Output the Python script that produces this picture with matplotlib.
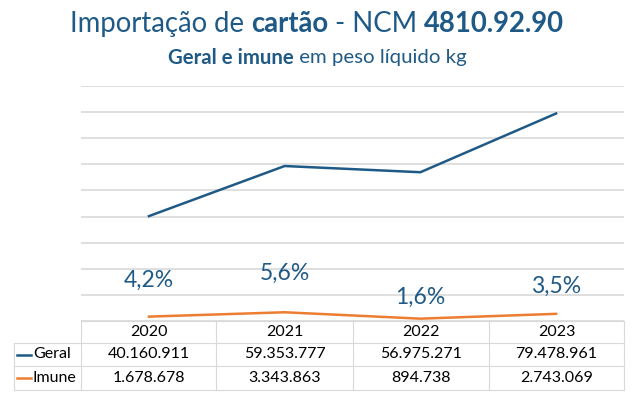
import matplotlib
matplotlib.use("Agg")
import matplotlib.pyplot as plt
from matplotlib.lines import Line2D

years = ["2020", "2021", "2022", "2023"]
geral = [40160911, 59353777, 56975271, 79478961]
imune = [1678678, 3343863, 894738, 2743069]
series_names = ["Geral", "Imune"]

BLUE = "#1F5A87"
ORANGE = "#ED7D31"
GRID = "#D9D9D9"
FONT = "Lato"

W, H = 634, 395
fig = plt.figure(figsize=(W / 100, H / 100), dpi=100)


def fx(px):
    return px / W


def fy(py):
    return 1 - py / H


# axes region (pixels)
L, R, T, B = 81, 624, 86, 321
ax = fig.add_axes([fx(L), fy(B), fx(R) - fx(L), fy(T) - fy(B)])
x = list(range(len(years)))
ax.set_xlim(-0.5, len(years) - 0.5)
ax.set_ylim(0, 90e6)
ax.set_yticks([i * 10e6 for i in range(10)])
ax.yaxis.grid(True, color=GRID, lw=1.2)
ax.set_axisbelow(True)
for s in ax.spines.values():
    s.set_visible(False)
ax.tick_params(left=False, bottom=False, labelleft=False, labelbottom=False)
ax.patch.set_alpha(0)

ax.plot(x, geral, color=BLUE, lw=1.8, solid_joinstyle="miter", clip_on=False)
ax.plot(x, imune, color=ORANGE, lw=1.8, solid_joinstyle="miter", clip_on=False)

# percentage labels (imune share of geral)
label_y_px = [280, 273, 297, 286]
for i, (g, im) in enumerate(zip(geral, imune)):
    pct = f"{im / g * 100:.1f}%".replace(".", ",")
    yv = (B - label_y_px[i]) / (B - T) * 90e6
    ax.text(i, yv, pct, ha="center", va="center", color=BLUE,
            fontsize=16.5, family=FONT)

# titles built from pieces (regular / bold)
renderer = fig.canvas.get_renderer()


def rich_line(pieces, ypx, size):
    texts = []
    for s, w in pieces:
        t = fig.text(0, fy(ypx), s, ha="left", va="center", color=BLUE,
                     fontsize=size, family=FONT, fontweight=w)
        texts.append(t)
    widths = [t.get_window_extent(renderer).width for t in texts]
    total = sum(widths)
    start = (W - total) / 2
    for t, w in zip(texts, widths):
        t.set_x(fx(start))
        start += w


rich_line([("Importação de ", "normal"), ("cartão", "bold"),
           (" - NCM ", "normal"), ("4810.92.90", "bold")], 24, 19.8)
rich_line([("Geral e imune", "bold"), (" em peso líquido kg", "normal")], 58, 14.7)

# data table
col_edges = [81, 216, 353, 489, 624]
row_edges = [321, 343, 366, 390]
left_edge = 14
lc = "#D9D9D9"


def hline(y, x0, x1):
    fig.add_artist(Line2D([fx(x0), fx(x1)], [fy(y), fy(y)], color=lc, lw=0.8))


def vline(xp, y0, y1):
    fig.add_artist(Line2D([fx(xp), fx(xp)], [fy(y0), fy(y1)], color=lc, lw=0.8))


hline(row_edges[0], col_edges[0], col_edges[-1])
for y in row_edges[1:]:
    hline(y, left_edge, col_edges[-1])
vline(left_edge, row_edges[1], row_edges[-1])
for xe in col_edges:
    vline(xe, row_edges[0], row_edges[-1])


def fmt(v):
    return f"{v:,}".replace(",", ".")


centers = [(col_edges[i] + col_edges[i + 1]) / 2 for i in range(4)]
row_c = [(row_edges[i] + row_edges[i + 1]) / 2 for i in range(3)]
for c, yr in zip(centers, years):
    fig.text(fx(c), fy(row_c[0]), yr, ha="center", va="center",
             fontsize=11.5, family=FONT, color="black")
for r, (name, vals, col) in enumerate(zip(series_names, [geral, imune], [BLUE, ORANGE])):
    yc = row_c[r + 1]
    fig.add_artist(Line2D([fx(17), fx(31)], [fy(yc), fy(yc)], color=col, lw=1.8))
    fig.text(fx(33), fy(yc), name, ha="left", va="center", fontsize=11.5,
             family=FONT, color="black")
    for c, v in zip(centers, vals):
        fig.text(fx(c), fy(yc), fmt(v), ha="center", va="center",
                 fontsize=11.5, family=FONT, color="black")

fig.savefig("out.png", dpi=100)
